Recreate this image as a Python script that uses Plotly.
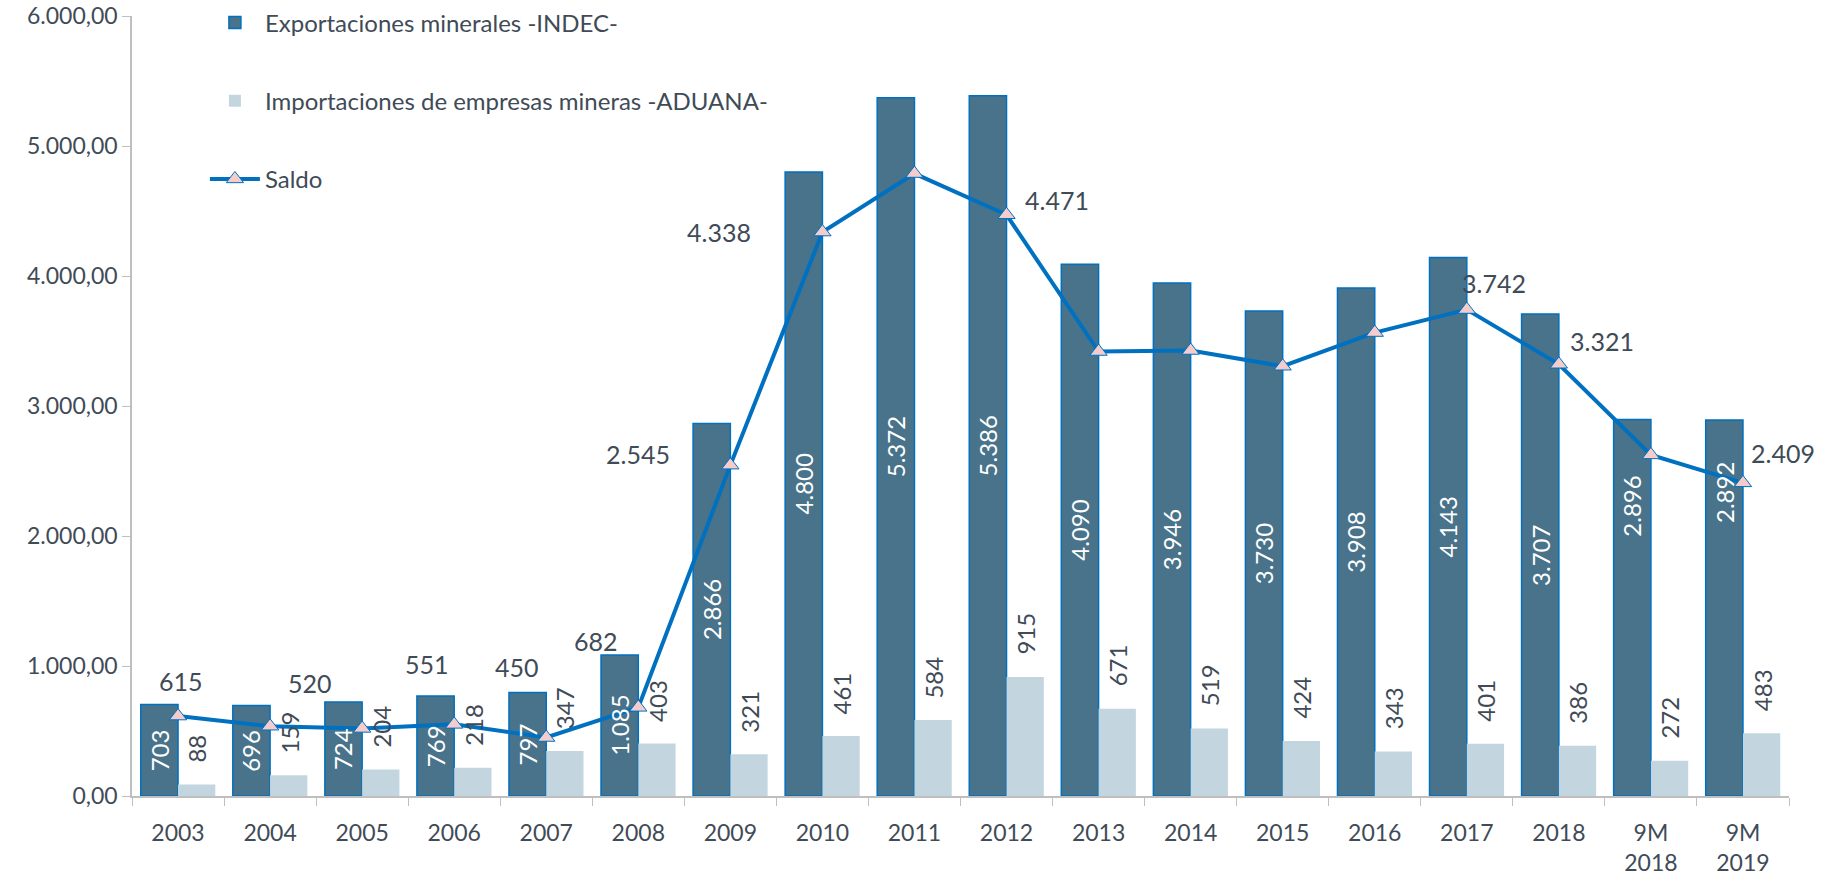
import plotly.graph_objects as go

categories = ["2003", "2004", "2005", "2006", "2007", "2008", "2009", "2010", "2011",
              "2012", "2013", "2014", "2015", "2016", "2017", "2018", "9M<br>2018", "9M<br>2019"]
exportaciones = [703, 696, 724, 769, 797, 1085, 2866, 4800, 5372, 5386, 4090, 3946, 3730,
                 3908, 4143, 3707, 2896, 2892]
importaciones = [88, 159, 204, 218, 347, 403, 321, 461, 584, 915, 671, 519, 424, 343, 401,
                 386, 272, 483]
saldo = [615, 537, 520, 551, 450, 682, 2545, 4338, 4788, 4471, 3419, 3427, 3306, 3565, 3742,
         3321, 2624, 2409]

# label placement (pixel offsets; None = label not shown)
saldo_dx = [3, None, -52, -27, -29, -42, -92, -103, None, 50, None, None, None, None, 27, 43, None, 40]
saldo_dy = [35, None, 45, 60, 71, 66, 11, 0, None, 15, None, None, None, None, 27, 23, None, 30]
export_label_dy = [0] * 16 + [102, 116]

FONT = "Lato"
TXT = "#3F4B57"
DARK = "#48738A"
LIGHT = "#C3D6DF"
BLUE = "#0070C0"


def fmt(v):
    return f"{int(round(v)):,}".replace(",", ".")


fig = go.Figure()
fig.add_trace(go.Bar(
    x=categories, y=exportaciones, name="Exportaciones minerales -INDEC-",
    marker=dict(color=DARK, line=dict(color=BLUE, width=1.5)),
    legendgroup="a",
))
fig.add_trace(go.Bar(
    x=categories, y=importaciones, name="Importaciones de empresas mineras -ADUANA-",
    marker=dict(color=LIGHT, line=dict(width=0)),
    legendgroup="b",
))
fig.add_trace(go.Scatter(
    x=categories, y=saldo, name="Saldo", mode="lines+markers",
    line=dict(color=BLUE, width=4),
    marker=dict(symbol="triangle-up", size=15, color="#F4CCCC", line=dict(color=BLUE, width=1)),
    legendgroup="c",
))

annotations = []
for i, (v, dy) in enumerate(zip(exportaciones, export_label_dy)):
    annotations.append(dict(x=i, y=v / 2, xref="x", yref="y", text=fmt(v), showarrow=False,
                            textangle=-90, xshift=-19, yshift=dy,
                            xanchor="center", yanchor="middle",
                            font=dict(family=FONT, size=24, color="white")))
for i, v in enumerate(importaciones):
    annotations.append(dict(x=i, y=v, xref="x", yref="y", text=fmt(v), showarrow=False,
                            textangle=-90, xshift=19, yshift=20, yanchor="bottom",
                            font=dict(family=FONT, size=24, color=TXT)))
for i, (v, dx, dy) in enumerate(zip(saldo, saldo_dx, saldo_dy)):
    if dx is None:
        continue
    annotations.append(dict(x=i, y=v, xref="x", yref="y", text=fmt(v), showarrow=False,
                            xshift=dx, yshift=dy,
                            font=dict(family=FONT, size=25, color=TXT)))

fig.update_layout(
    width=1834, height=878,
    margin=dict(l=132, r=45, t=16, b=82, autoexpand=False),
    paper_bgcolor="white", plot_bgcolor="white",
    barmode="group", bargap=0.19, bargroupgap=0,
    separators=",.",
    font=dict(family=FONT, size=23, color=TXT),
    showlegend=True,
    legend=dict(x=0.044, y=1.02, xanchor="left", yanchor="top",
                traceorder="grouped", tracegroupgap=44,
                font=dict(family=FONT, size=24, color=TXT),
                bgcolor="rgba(0,0,0,0)", itemwidth=50),
    annotations=annotations,
    xaxis=dict(type="category", range=[-0.5, len(categories) - 0.5], autorange=False,
               showline=True, linecolor="#BFBFBF", linewidth=1.5,
               ticks="outside", tickson="boundaries", ticklen=8, tickcolor="#BFBFBF",
               ticklabelstandoff=16, ticklabeloverflow="allow",
               tickangle=0, showgrid=False, tickfont=dict(family=FONT, size=23, color=TXT)),
    yaxis=dict(range=[0, 6000], autorange=False, dtick=1000, tickformat=",.2f", showline=True,
               linecolor="#BFBFBF", linewidth=1.5, ticks="outside", ticklen=8,
               ticklabeloverflow="allow",
               tickcolor="#BFBFBF", showgrid=False, zeroline=False,
               tickfont=dict(family=FONT, size=23, color=TXT)),
)

fig.write_html("out.html", config={"displayModeBar": False},
               post_script="document.body.style.margin='0';")
